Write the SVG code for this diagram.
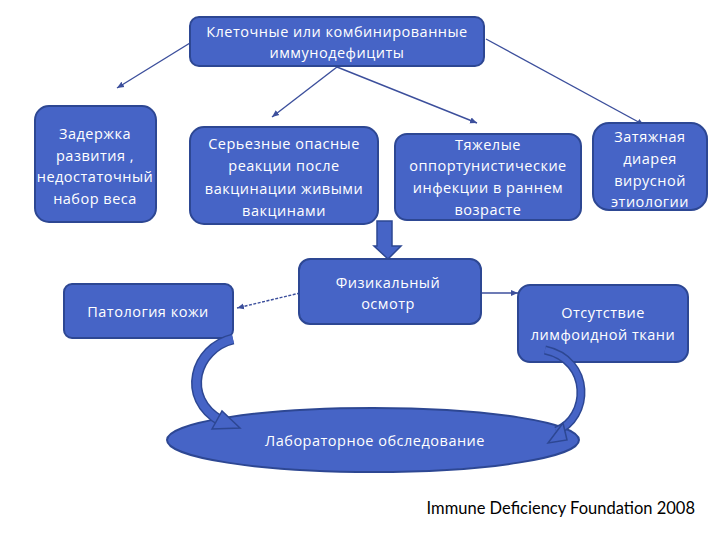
<svg xmlns="http://www.w3.org/2000/svg" width="720" height="540" viewBox="0 0 720 540">
<style>
.box{fill:#4664C6;stroke:#2D4793;stroke-width:2}
.t{font-family:"Open Sans","Liberation Sans",sans-serif;font-size:14.5px;fill:#ffffff;text-anchor:middle;letter-spacing:0.5px}
.ln{stroke:#3C4F9C;stroke-width:1.4;fill:none;marker-end:url(#ah)}
.blk{fill:#4664C6;stroke:#2D4793;stroke-width:1.5}
</style>
<defs>
<marker id="ah" markerWidth="8" markerHeight="8" refX="7" refY="4" orient="auto" markerUnits="userSpaceOnUse">
<path d="M0,1 L7,4 L0,7 Z" fill="#3C4F9C"/>
</marker>
</defs>
<rect width="720" height="540" fill="#ffffff"/>
<g id="connectors">
<line class="ln" x1="190" y1="43" x2="117" y2="88"/>
<line class="ln" x1="337" y1="67" x2="272" y2="117"/>
<line class="ln" x1="337" y1="67" x2="477" y2="123"/>
<line class="ln" x1="486" y1="39" x2="644" y2="125"/>
<line class="ln" x1="300" y1="293" x2="237" y2="308" stroke-dasharray="3,1.5"/>
<line class="ln" x1="481" y1="293" x2="518" y2="293"/>
<path class="blk" d="M377,221 H392 V246 H401 L388,259 L374,246 H377 Z"/>
</g>
<g id="n-top"><rect class="box" x="190" y="17" width="294" height="49" rx="9"/>
<text class="t" x="337" y="37">Клеточные или комбинированные</text>
<text class="t" x="337" y="58">иммунодефициты</text></g>
<g id="n-zad"><rect class="box" x="35" y="106" width="121" height="116" rx="14"/>
<text class="t" x="95" y="139">Задержка</text>
<text class="t" x="95" y="161">развития ,</text>
<text class="t" x="95" y="182">недостаточный</text>
<text class="t" x="95" y="204">набор веса</text></g>
<g id="n-ser"><rect class="box" x="190" y="127" width="188" height="97" rx="14"/>
<text class="t" x="284" y="149">Серьезные опасные</text>
<text class="t" x="284" y="171">реакции после</text>
<text class="t" x="284" y="194">вакцинации живыми</text>
<text class="t" x="284" y="216">вакцинами</text></g>
<g id="n-tyazh"><rect class="box" x="395" y="134" width="186" height="86" rx="12"/>
<text class="t" x="488" y="150">Тяжелые</text>
<text class="t" x="488" y="171">оппортунистические</text>
<text class="t" x="488" y="193">инфекции в раннем</text>
<text class="t" x="488" y="215">возрасте</text></g>
<g id="n-diar"><rect class="box" x="593" y="123" width="114" height="87" rx="16"/>
<text class="t" x="650" y="142">Затяжная</text>
<text class="t" x="650" y="164">диарея</text>
<text class="t" x="650" y="186">вирусной</text>
<text class="t" x="650" y="207">этиологии</text></g>
<g id="n-fiz"><rect class="box" x="299" y="259" width="182" height="65" rx="11"/>
<text class="t" x="388" y="288">Физикальный</text>
<text class="t" x="388" y="309">осмотр</text></g>
<g id="n-kozh"><rect class="box" x="64" y="284" width="169" height="54" rx="8"/>
<text class="t" x="148" y="317">Патология кожи</text></g>
<g id="n-limf"><rect class="box" x="518" y="285" width="170" height="77" rx="12"/>
<text class="t" x="603" y="318">Отсутствие</text>
<text class="t" x="603" y="340">лимфоидной ткани</text></g>
<g id="n-lab"><ellipse class="box" cx="373" cy="440" rx="206" ry="32"/>
<text class="t" x="375" y="446">Лабораторное обследование</text></g>
<g id="curved-arrows">
<path d="M233,339 C195,348 180,398 221,421" fill="none" stroke="#2D4793" stroke-width="11"/>
<path d="M233,339 C195,348 180,398 221,421" fill="none" stroke="#4664C6" stroke-width="8"/>
<path class="blk" d="M212,429 L222,411 L240,428 Z"/>
<path d="M545,350 C592,360 590,418 556,431" fill="none" stroke="#2D4793" stroke-width="9"/>
<path d="M545,350 C592,360 590,418 556,431" fill="none" stroke="#4664C6" stroke-width="6"/>
<path class="blk" d="M563,423 L548,443 L567,440 Z"/>
</g>
<text x="695" y="514" font-family="Lato,'Open Sans',sans-serif" font-size="16.5" fill="#000" text-anchor="end">Immune Deficiency Foundation 2008</text>
</svg>
